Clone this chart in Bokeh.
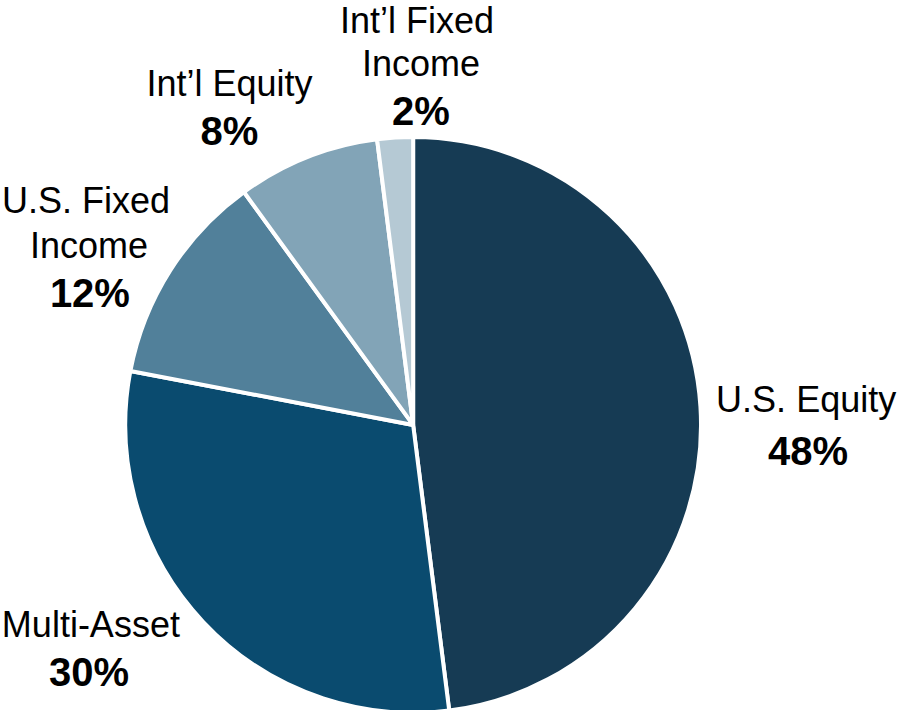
import numpy as np
from bokeh.plotting import figure
from bokeh.models import ColumnDataSource, Range1d
from bokeh.core.properties import value
from bokeh.embed import file_html
from bokeh.resources import INLINE

# ---- data ----
categories = ["U.S. Equity", "Multi-Asset", "U.S. Fixed Income", "Int\u2019l Equity", "Int\u2019l Fixed Income"]
shares = [48, 30, 12, 8, 2]
label_lines = [["U.S. Equity"], ["Multi-Asset"], ["U.S. Fixed", "Income"], ["Int\u2019l Equity"], ["Int\u2019l Fixed", "Income"]]
colors = ["#163B54", "#0A4B6F", "#51809A", "#82A4B7", "#B5C9D4"]

# ---- layout (reference pixel space, y measured from top) ----
REF_W, REF_H = 914, 726
CX, CY, R = 420, 434, 293
# per category: list of (x, baseline) for each name line, then (x, baseline) of the percent line
label_pos = [
    ([(820, 420)], (822, 475)),
    ([(92, 650)], (90, 701)),
    ([(87, 217), (90, 263)], (91, 313)),
    ([(233, 97)], (233, 147)),
    ([(424, 32), (428, 76)], (428, 127)),
]
NAME_DY = 12   # baseline correction (reference px)
PCT_DY = 14

W, H = 898, 710

p = figure(width=W, height=H, output_backend="svg", toolbar_location=None,
           x_range=Range1d(0, REF_W), y_range=Range1d(0, REF_H),
           min_border=0, tools="")
p.axis.visible = False
p.grid.visible = False
p.outline_line_color = None
p.background_fill_color = "white"
p.border_fill_color = "white"

vals = np.array(shares, dtype=float)
frac = vals / vals.sum()
cum = np.concatenate([[0.0], np.cumsum(frac)])
start = np.pi / 2 - 2 * np.pi * cum[:-1]
end = np.pi / 2 - 2 * np.pi * cum[1:]

src = ColumnDataSource(dict(x=[CX] * len(shares), y=[REF_H - CY] * len(shares),
                            start=start, end=end, color=colors, cat=categories))
p.wedge(x="x", y="y", radius=R, start_angle="start", end_angle="end",
        direction="clock", fill_color="color", line_color="white", line_width=4,
        source=src)

nx, ny, nt = [], [], []
bx, by, bt = [], [], []
for lines, pos, v in zip(label_lines, label_pos, shares):
    for txt, (x, y) in zip(lines, pos[0]):
        nx.append(x); ny.append(REF_H - y + NAME_DY); nt.append(txt)
    bx.append(pos[1][0]); by.append(REF_H - pos[1][1] + PCT_DY); bt.append(f"{v}%")

p.text(x=nx, y=ny, text=nt, text_align="center", text_baseline="alphabetic",
       text_font=value("Liberation Sans"), text_font_size="36px", text_color="black")
p.text(x=bx, y=by, text=bt, text_align="center", text_baseline="alphabetic",
       text_font=value("Liberation Sans"), text_font_size="40px", text_font_style="bold",
       text_color="black")

open("out.html", "w").write(file_html(p, INLINE))
